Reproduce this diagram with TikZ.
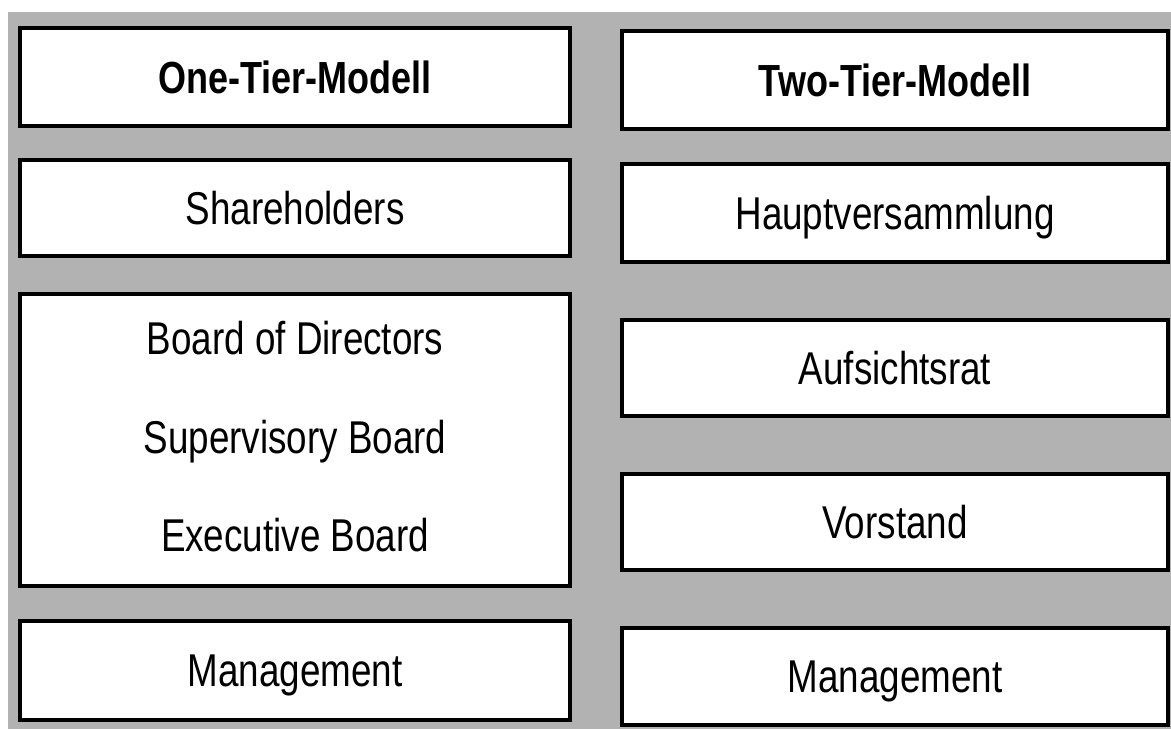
\documentclass[tikz,border=0pt]{standalone}
\usepackage{fontspec}
\setmainfont{Liberation Sans}[FakeStretch=0.8]
\definecolor{bggray}{RGB}{178,178,178}
\begin{document}
\begin{tikzpicture}[x=1pt,y=-1pt,
  box/.style={draw=black, line width=4pt, fill=white, inner sep=0pt,
    font=\fontsize{46}{50}\selectfont, text height=33pt, text depth=0pt},
  title/.style={box, font=\fontsize{45}{50}\selectfont\bfseries, text height=32pt},
  lbl/.style={inner sep=0pt, font=\fontsize{46}{50}\selectfont, text height=33pt, text depth=0pt}]
\useasboundingbox (0,0) rectangle (1171,729);
\fill[bggray] (8,12) rectangle (1171,729);
% left column
\node[title, minimum width=550pt, minimum height=98pt] (onetier) at (295,77) {One-Tier-Modell};
\node[box, minimum width=550pt, minimum height=96pt] (share) at (295,208) {Shareholders};
\node[box, minimum width=550pt, minimum height=292pt] (board) at (295,440) {};
\node[lbl] (bod) at (295,338) {Board of Directors};
\node[lbl] (sup) at (295,437) {Supervisory Board};
\node[lbl] (exe) at (295,535) {Executive Board};
\node[box, minimum width=550pt, minimum height=99pt] (mgmtL) at (295,670) {Management};
% right column
\node[title, minimum width=546pt, minimum height=98pt] (twotier) at (895,80) {Two-Tier-Modell};
\node[box, minimum width=546pt, minimum height=98pt] (haupt) at (895,213) {Hauptversammlung};
\node[box, minimum width=546pt, minimum height=96pt] (aufs) at (895,368) {Aufsichtsrat};
\node[box, minimum width=546pt, minimum height=96pt] (vorst) at (895,522) {Vorstand};
\node[box, minimum width=546pt, minimum height=97pt] (mgmtR) at (895,676) {Management};
\end{tikzpicture}
\end{document}
